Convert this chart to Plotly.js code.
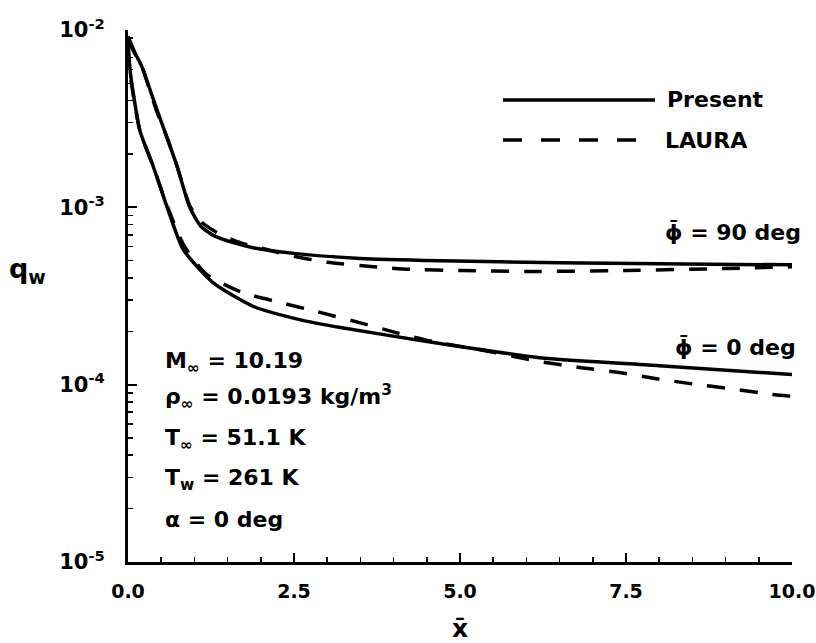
<!DOCTYPE html>
<html><head><meta charset="utf-8">
<script src="https://cdn.plot.ly/plotly-3.0.1.min.js"></script>
<style>body{margin:0;background:#fff}</style>
</head><body><div id="chart" style="width:816px;height:643px"></div>
<script>
// phi = 90 deg, Present
const x90Present = [0, 0.1, 0.21, 0.43, 0.6, 0.74, 0.93, 1.1, 1.3, 1.6, 1.9, 2.5, 3.5, 4.7, 6.5, 8, 10];
const q90Present = [0.0092, 0.0075, 0.0062, 0.0036, 0.0024, 0.0017, 0.00100, 0.00078, 0.00069, 0.00063, 0.00059, 0.00055, 0.000515, 0.0005, 0.000487, 0.00048, 0.000474];
// phi = 90 deg, LAURA
const x90Laura = [0, 0.1, 0.21, 0.43, 0.6, 0.74, 0.93, 1.1, 1.4, 1.7, 2.0, 2.5, 3.0, 3.7, 4.25, 5, 6, 7.5, 9, 10];
const q90Laura = [0.0088, 0.0074, 0.0062, 0.0035, 0.0024, 0.0017, 0.00102, 0.00083, 0.00070, 0.00063, 0.00059, 0.00053, 0.00049, 0.000462, 0.000447, 0.00044, 0.000435, 0.00044, 0.000452, 0.000462];
// phi = 0 deg, Present
const x0Present = [0, 0.03, 0.075, 0.18, 0.38, 0.59, 0.83, 1.28, 1.9, 2.6, 3.2, 4.6, 6.2, 8, 10];
const q0Present = [0.0085, 0.0060, 0.0045, 0.0027, 0.0017, 0.0010, 0.00058, 0.000376, 0.000275, 0.000232, 0.00021, 0.000173, 0.000142, 0.000128, 0.000114];
// phi = 0 deg, LAURA
const x0Laura = [0, 0.03, 0.075, 0.18, 0.38, 0.59, 0.83, 1.1, 1.23, 1.73, 2.3, 2.85, 3.5, 4.05, 4.6, 5.4, 6.2, 6.8, 7.4, 7.96, 8.5, 9.07, 9.7, 10];
const q0Laura = [0.008, 0.0058, 0.0044, 0.0027, 0.0017, 0.00102, 0.00062, 0.00045, 0.000406, 0.00033, 0.00029, 0.000258, 0.000223, 0.000196, 0.000175, 0.000155, 0.000135, 0.000125, 0.000117, 0.000108, 0.000101, 0.000095, 0.000088, 0.000086];

const xTickVals = [0, 2.5, 5, 7.5, 10];
const xTickText = ['0.0', '2.5', '5.0', '7.5', '10.0'];
const yTickVals = [1e-5, 1e-4, 1e-3, 1e-2];
const yTickText = ['10<sup>-5</sup>', '10<sup>-4</sup>', '10<sup>-3</sup>', '10<sup>-2</sup>'];

const yMinor = [];
for (let d = -5; d <= -3; d++) for (let m = 2; m <= 9; m++) yMinor.push(m * Math.pow(10, d));

const FONT = 'DejaVu Sans, Verdana, sans-serif';
const solid = {color: '#000', width: 3.5};
const dashed = {color: '#000', width: 3.5, dash: '18px,15px'};

const traces = [
  {x: x90Present, y: q90Present, mode: 'lines', line: solid, name: 'Present'},
  {x: x90Laura, y: q90Laura, mode: 'lines', line: dashed, name: 'LAURA'},
  {x: x0Present, y: q0Present, mode: 'lines', line: solid, name: 'Present'},
  {x: x0Laura, y: q0Laura, mode: 'lines', line: dashed, name: 'LAURA'}
];
traces.forEach(t => { t.line = Object.assign({}, t.line, {shape: 'spline', smoothing: 0.6}); t.showlegend = false; t.hoverinfo = 'skip'; });

// pixel helpers for paper placement (plot area 128..792 x 30..562)
const px = v => (v - 128) / 664;
const py = v => (562 - v) / 532;

const txt = (text, x, y, size, xanchor) => ({
  text, xref: 'paper', yref: 'paper', x: px(x), y: py(y), xanchor: xanchor || 'left', yanchor: 'middle',
  showarrow: false, font: {family: FONT, size: size || 22, color: '#000', weight: 700}
});

const layout = {
  width: 816, height: 643,
  margin: {l: 128, r: 24, t: 30, b: 81},
  paper_bgcolor: '#fff', plot_bgcolor: '#fff',
  font: {family: FONT, color: '#000', weight: 700},
  xaxis: {
    range: [0, 10], tickmode: 'array', tickvals: xTickVals, ticktext: xTickText,
    ticks: 'inside', ticklen: 9, tickwidth: 2, tickcolor: '#000',
    showline: true, linewidth: 3, linecolor: '#000', showgrid: false, zeroline: false,
    tickfont: {family: FONT, size: 19, color: '#000', weight: 700}, ticklabelstandoff: 10,
    minor: {ticks: 'inside', dtick: 0.5, ticklen: 5, tickwidth: 1.5, tickcolor: '#000', showgrid: false},
    title: {text: 'x\u0304', font: {family: FONT, size: 25, color: '#000', weight: 700}, standoff: 20}
  },
  yaxis: {
    type: 'log', range: [-5, -2], tickmode: 'array', tickvals: yTickVals, ticktext: yTickText,
    ticks: 'inside', ticklen: 9, tickwidth: 2, tickcolor: '#000',
    showline: true, linewidth: 3, linecolor: '#000', showgrid: false, zeroline: false,
    tickfont: {family: FONT, size: 21, color: '#000', weight: 700}, ticklabelstandoff: 16,
    minor: {ticks: 'inside', tickmode: 'array', tickvals: yMinor, ticklen: 5, tickwidth: 1.5, tickcolor: '#000', showgrid: false}
  },
  shapes: [
    {type: 'line', xref: 'paper', yref: 'paper', x0: px(503), x1: px(655), y0: py(100), y1: py(100), line: {color: '#000', width: 3.5}},
    {type: 'line', xref: 'paper', yref: 'paper', x0: px(503), x1: px(636), y0: py(140), y1: py(140), line: {color: '#000', width: 3.5, dash: '19px,19px'}}
  ],
  annotations: [
    txt('Present', 665, 100),
    txt('LAURA', 663, 140),
    txt('\u03d5\u0304 = 90 deg', 663, 233),
    txt('\u03d5\u0304 = 0 deg', 673, 347),
    txt('M<sub>\u221e</sub> = 10.19', 163, 362),
    txt('\u03c1<sub>\u221e</sub> = 0.0193 kg/m<sup>3</sup>', 163, 397),
    txt('T<sub>\u221e</sub> = 51.1 K', 163, 439),
    txt('T<sub>w</sub> = 261 K', 163, 479),
    txt('\u03b1 = 0 deg', 163, 519),
    txt('q<sub>w</sub>', 28, 270, 27, 'center')
  ]
};

Plotly.newPlot('chart', traces, layout, {displayModeBar: false, staticPlot: true});
</script>
</body></html>
